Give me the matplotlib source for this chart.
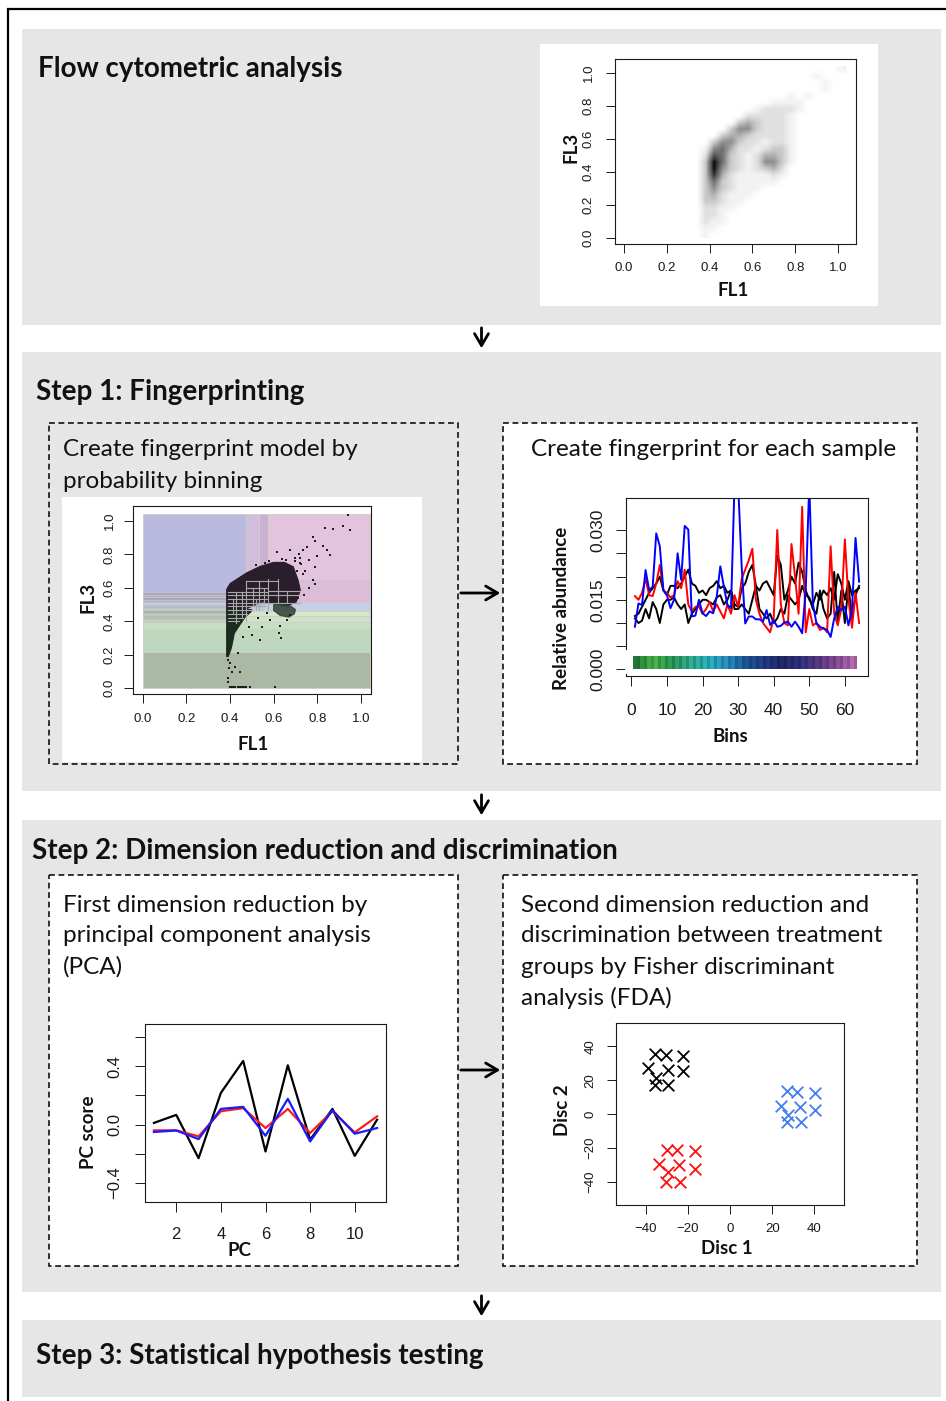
import matplotlib

matplotlib.use("Agg")
import matplotlib.pyplot as plt
import numpy as np
from matplotlib.colors import LinearSegmentedColormap, to_rgb
from matplotlib.patches import Rectangle, Polygon

W, H = 946, 1401
PANEL_GRAY = "#e6e6e6"
LABEL_FONT = "Lato"
plt.rcParams["font.family"] = "Liberation Sans"

# ---------------- data ----------------
# top panel: FL1/FL3 event density, 0.04-wide cells, rows from FL3 1.02 down to 0.02
# each row = (first FL1 cell, density digits 0-9)
FCM_ROWS = [
    (25, "1"), (22, "1"), (23, "1"), (23, "1"), (19, "101"), (17, "1111"),
    (15, "122221"), (14, "222221"), (13, "3432221"), (12, "35532221"),
    (11, "344322221"), (10, "3553221221"), (9, "15642212331"),
    (9, "27632124431"), (9, "39632125531"), (9, "3953212342"),
    (9, "3842111121"), (9, "363211111"), (9, "3532111"), (9, "342111"),
    (9, "33211"), (9, "2211"), (9, "221"), (9, "211"), (9, "11"), (9, "1"),
]
FCM_CELL = 0.04

# step 1 left: probability bins (FL1 from, FL1 to, FL3 from, FL3 to, colour)
BIN_RECTS = [
    (0.000, 0.475, 0.575, 1.040, "#b9bade"),
    (0.475, 0.535, 0.600, 1.040, "#d2bedc"),
    (0.535, 0.575, 0.600, 1.040, "#cbb0d4"),
    (0.575, 1.040, 0.650, 1.040, "#e2c4dd"),
    (0.575, 1.040, 0.510, 0.650, "#dbbdd8"),
    (0.475, 0.575, 0.510, 0.600, "#cdb6d6"),
    (0.390, 0.475, 0.470, 0.575, "#b4b4d0"),
    (0.560, 1.040, 0.470, 0.510, "#c4d0e8"),
    (0.390, 0.560, 0.470, 0.510, "#c0c8e0"),
    (0.390, 1.040, 0.460, 0.470, "#dce7ec"),
    (0.390, 1.040, 0.430, 0.460, "#d4e7ca"),
    (0.390, 1.040, 0.395, 0.430, "#cee3c5"),
    (0.000, 1.040, 0.355, 0.395, "#c7dfc0"),
    (0.000, 1.040, 0.215, 0.355, "#bfd8bd"),
    (0.000, 1.040, 0.000, 0.215, "#aab8a4"),
]
STRIPE_EDGES = [0.395, 0.415, 0.435, 0.45, 0.465, 0.48, 0.50, 0.515, 0.53,
                0.545, 0.56, 0.575]
STRIPE_COLORS = ["#c3d3bd", "#b3c0b0", "#bccabb", "#aab4a8", "#c2cdc8",
                 "#b1bcc4", "#c8c8da", "#b2b2c9", "#a9a5be", "#b4afc9",
                 "#aaa7c1"]
# small bin borders inside the dense region
BIN_HSEGS = [(0.600, 0.475, 0.575), (0.575, 0.390, 0.575), (0.555, 0.390, 0.720),
             (0.535, 0.390, 0.575), (0.510, 0.390, 0.720), (0.490, 0.390, 0.560),
             (0.470, 0.390, 0.500), (0.445, 0.390, 0.480), (0.420, 0.390, 0.460),
             (0.400, 0.390, 0.440), (0.580, 0.575, 0.720), (0.640, 0.475, 0.620)]
BIN_VSEGS = [(0.475, 0.400, 0.640), (0.535, 0.470, 0.640), (0.575, 0.470, 0.650),
             (0.430, 0.390, 0.575), (0.455, 0.420, 0.575), (0.505, 0.490, 0.600),
             (0.520, 0.470, 0.535), (0.620, 0.510, 0.650), (0.660, 0.510, 0.580),
             (0.415, 0.445, 0.535), (0.555, 0.510, 0.600)]
# outlines of the dense event masses
UPPER_MASS_X = [0.385, 0.401, 0.432, 0.477, 0.538, 0.599, 0.650, 0.690, 0.712,
                0.722, 0.704, 0.660, 0.599, 0.550, 0.500, 0.470, 0.430, 0.385]
UPPER_MASS_Y = [0.591, 0.626, 0.652, 0.690, 0.728, 0.752, 0.752, 0.726, 0.646,
                0.587, 0.517, 0.490, 0.507, 0.517, 0.490, 0.470, 0.470, 0.470]
LOWER_MASS_X = [0.385, 0.500, 0.495, 0.470, 0.440, 0.420, 0.414, 0.406, 0.398,
                0.392, 0.385]
LOWER_MASS_Y = [0.470, 0.470, 0.455, 0.427, 0.368, 0.328, 0.288, 0.239, 0.209,
                0.190, 0.190]
RIGHT_MASS_X = [0.600, 0.640, 0.680, 0.700, 0.695, 0.670, 0.630, 0.600]
RIGHT_MASS_Y = [0.500, 0.503, 0.490, 0.470, 0.445, 0.425, 0.435, 0.465]
SPARSE_X = [0.942, 0.949, 0.835, 0.874, 0.917, 0.782, 0.790, 0.752, 0.828, 0.843,
            0.858, 0.797, 0.715, 0.723, 0.761, 0.790, 0.782, 0.790, 0.614, 0.675,
            0.736, 0.721, 0.530, 0.546, 0.500, 0.459, 0.487, 0.538, 0.585, 0.631,
            0.623, 0.633, 0.569, 0.660, 0.675, 0.439, 0.444, 0.401, 0.424, 0.391,
            0.605, 0.390, 0.400, 0.395, 0.410, 0.390, 0.400, 0.405, 0.415, 0.425,
            0.435, 0.445, 0.455, 0.465, 0.475, 0.490, 0.745, 0.700, 0.760, 0.640,
            0.655, 0.700, 0.725, 0.735, 0.705, 0.580, 0.560, 0.520, 0.740, 0.712]
SPARSE_Y = [1.034, 0.945, 0.960, 0.954, 0.968, 0.901, 0.881, 0.845, 0.849, 0.825,
            0.795, 0.789, 0.805, 0.781, 0.766, 0.726, 0.646, 0.626, 0.815, 0.825,
            0.825, 0.746, 0.418, 0.368, 0.318, 0.308, 0.368, 0.288, 0.408, 0.373,
            0.328, 0.298, 0.447, 0.408, 0.438, 0.209, 0.099, 0.149, 0.129, 0.040,
            0.005, 0.170, 0.150, 0.120, 0.100, 0.060, 0.006, 0.006, 0.006, 0.006,
            0.006, 0.006, 0.006, 0.006, 0.006, 0.006, 0.700, 0.780, 0.600, 0.770,
            0.765, 0.760, 0.745, 0.680, 0.700, 0.762, 0.750, 0.735, 0.560, 0.540]

# step 1 right: fingerprints (relative abundance per bin)
BINS = list(range(1, 65))
FP_RED = [0.0158, 0.0150, 0.0165, 0.0195, 0.0160, 0.0158, 0.0185, 0.0225, 0.0170, 0.0165,
          0.0155, 0.0160, 0.0190, 0.0175, 0.0215, 0.0140, 0.0125, 0.0135, 0.0135, 0.0120,
          0.0130, 0.0145, 0.0125, 0.0140, 0.0125, 0.0110, 0.0140, 0.0120, 0.0160, 0.0135,
          0.0195, 0.0215, 0.0235, 0.0260, 0.0150, 0.0120, 0.0100, 0.0090, 0.0080, 0.0110,
          0.0300, 0.0140, 0.0100, 0.0095, 0.0270, 0.0200, 0.0120, 0.0350, 0.0080, 0.0130,
          0.0095, 0.0100, 0.0085, 0.0090, 0.0080, 0.0265, 0.0120, 0.0095, 0.0130, 0.0280,
          0.0150, 0.0090, 0.0165, 0.0100]
FP_BLUE = [0.0092, 0.0142, 0.0139, 0.0214, 0.0171, 0.0178, 0.0293, 0.0265, 0.0171, 0.0160,
           0.0132, 0.0150, 0.0250, 0.0193, 0.0309, 0.0301, 0.0114, 0.0116, 0.0150, 0.0121,
           0.0115, 0.0125, 0.0121, 0.0157, 0.0222, 0.0178, 0.0139, 0.0132, 0.0400, 0.0400,
           0.0222, 0.0099, 0.0114, 0.0114, 0.0108, 0.0108, 0.0103, 0.0128, 0.0096, 0.0106,
           0.0092, 0.0094, 0.0101, 0.0103, 0.0092, 0.0103, 0.0092, 0.0078, 0.0171, 0.0400,
           0.0142, 0.0100, 0.0092, 0.0088, 0.0085, 0.0070, 0.0110, 0.0135, 0.0128, 0.0135,
           0.0095, 0.0130, 0.0283, 0.0189]
FP_BLACK_A = [0.0115, 0.0120, 0.0135, 0.0150, 0.0165, 0.0175, 0.0185, 0.0200, 0.0170, 0.0160,
              0.0180, 0.0180, 0.0175, 0.0185, 0.0200, 0.0215, 0.0185, 0.0180, 0.0165, 0.0170,
              0.0160, 0.0175, 0.0180, 0.0190, 0.0175, 0.0180, 0.0165, 0.0170, 0.0140, 0.0135,
              0.0175, 0.0185, 0.0210, 0.0225, 0.0180, 0.0170, 0.0185, 0.0190, 0.0175, 0.0160,
              0.0245, 0.0225, 0.0150, 0.0170, 0.0200, 0.0185, 0.0230, 0.0210, 0.0170, 0.0150,
              0.0140, 0.0165, 0.0150, 0.0170, 0.0160, 0.0175, 0.0150, 0.0205, 0.0185, 0.0150,
              0.0190, 0.0160, 0.0170, 0.0175]
FP_BLACK_B = [0.0110, 0.0100, 0.0105, 0.0130, 0.0110, 0.0145, 0.0130, 0.0100, 0.0140, 0.0150,
              0.0150, 0.0155, 0.0140, 0.0130, 0.0140, 0.0100, 0.0120, 0.0130, 0.0140, 0.0150,
              0.0150, 0.0145, 0.0140, 0.0155, 0.0160, 0.0140, 0.0150, 0.0170, 0.0130, 0.0130,
              0.0140, 0.0130, 0.0120, 0.0150, 0.0180, 0.0130, 0.0120, 0.0110, 0.0120, 0.0100,
              0.0110, 0.0130, 0.0120, 0.0160, 0.0150, 0.0140, 0.0150, 0.0180, 0.0160, 0.0155,
              0.0130, 0.0120, 0.0170, 0.0130, 0.0110, 0.0120, 0.0210, 0.0100, 0.0170, 0.0100,
              0.0180, 0.0110, 0.0160, 0.0180]
BAR_ANCHORS = ["#1f7a3a", "#4cb848", "#2a9a5a", "#30b090", "#2ab5c0", "#2a90c8",
               "#1a5a98", "#243c88", "#1e2a6a", "#303080", "#5a3a8a", "#8a4c9e",
               "#c070b8"]

# step 2 left: PCA scores
PCS = list(range(1, 12))
PCA_BLACK = [0.012, 0.067, -0.230, 0.218, 0.437, -0.184, 0.407, -0.103, 0.108, -0.214, 0.034]
PCA_RED = [-0.039, -0.039, -0.080, 0.092, 0.113, -0.023, 0.108, -0.057, 0.092, -0.053, 0.057]
PCA_BLUE = [-0.050, -0.040, -0.099, 0.108, 0.122, -0.076, 0.177, -0.115, 0.099, -0.062, -0.023]

# step 2 right: FDA discriminant scores per group
FDA_BLACK_X = [-35.3, -30.4, -22.1, -38.8, -29.6, -22.1, -35.2, -35.5, -29.3]
FDA_BLACK_Y = [35.5, 35.1, 34.5, 27.2, 26.3, 25.3, 21.3, 17.4, 17.4]
FDA_RED_X = [-30.0, -25.3, -16.6, -33.5, -24.0, -16.6, -29.6, -30.4, -23.7]
FDA_RED_Y = [-21.3, -21.3, -21.9, -29.2, -30.2, -32.2, -34.1, -40.0, -40.0]
FDA_BLUE_X = [27.2, 31.9, 40.4, 24.1, 33.2, 40.4, 27.7, 27.2, 33.5]
FDA_BLUE_Y = [13.5, 12.9, 12.4, 5.0, 4.0, 2.65, -0.3, -4.8, -4.8]


# ---------------- helpers ----------------
def pax(fig, left, top, right, bottom):
    return fig.add_axes([left / W, 1 - bottom / H, (right - left) / W, (bottom - top) / H])


def r_style(ax, size, xpad, ypad, tick_len=6.5):
    for sp in ax.spines.values():
        sp.set_linewidth(0.8)
        sp.set_color("#1a1a1a")
    ax.tick_params(direction="out", length=tick_len, width=0.7, labelsize=size,
                   colors="#1a1a1a")
    ax.tick_params(axis="x", pad=xpad)
    ax.tick_params(axis="y", pad=ypad)
    for lbl in ax.get_yticklabels():
        lbl.set_rotation(90)
        lbl.set_va("center")


fig = plt.figure(figsize=(W / 100, H / 100), dpi=100)
bg = fig.add_axes([0, 0, 1, 1])
bg.set_xlim(0, W)
bg.set_ylim(H, 0)
bg.axis("off")

# outer frame and grey panels
bg.plot([7.5, 7.5, W + 5], [H + 5, 9, 9], color="black", lw=1.6, solid_joinstyle="miter")
for top, bottom in [(29, 325), (352, 791), (820, 1292), (1320, 1397)]:
    bg.add_patch(Rectangle((22, top), 919, bottom - top, facecolor=PANEL_GRAY, edgecolor="none"))

# white areas behind the plots
bg.add_patch(Rectangle((540, 44), 338, 262, facecolor="white", edgecolor="none"))
bg.add_patch(Rectangle((62, 497), 360, 265, facecolor="white", edgecolor="none"))
bg.add_patch(Rectangle((503, 423), 414, 341, facecolor="white", edgecolor="none"))
bg.add_patch(Rectangle((49, 875), 409, 391, facecolor="white", edgecolor="none"))
bg.add_patch(Rectangle((503, 875), 414, 391, facecolor="white", edgecolor="none"))

# dashed boxes
for x0, y0, x1, y1 in [(49, 423, 458, 764), (503, 423, 917, 764),
                       (49, 875, 458, 1266), (503, 875, 917, 1266)]:
    bg.add_patch(Rectangle((x0, y0), x1 - x0, y1 - y0, fill=False, edgecolor="#111111",
                           lw=1.2, ls=(0, (3.5, 2.2))))

# arrows
arrow_kw = dict(arrowstyle="->,head_length=0.85,head_width=0.5", color="black", lw=2.0)
for y0, y1 in [(325, 351), (792, 818), (1293, 1319)]:
    bg.annotate("", xy=(481.5, y1), xytext=(481.5, y0), arrowprops=arrow_kw)
for y in [593, 1070]:
    bg.annotate("", xy=(503, y), xytext=(458, y), arrowprops=arrow_kw)

# headings and box texts
title_kw = dict(family=LABEL_FONT, weight="bold", fontsize=20, va="center", ha="left",
                color="#111111")
bg.text(38, 69, "Flow cytometric analysis", **title_kw)
bg.text(36, 392, "Step 1: Fingerprinting", **title_kw)
bg.text(32, 851, "Step 2: Dimension reduction and discrimination", **title_kw)
bg.text(36, 1356, "Step 3: Statistical hypothesis testing", **title_kw)

body_kw = dict(family=LABEL_FONT, fontsize=17.5, va="center", ha="left", color="#111111")
for x, y0, lines in [
    (63, 450, ["Create fingerprint model by", "probability binning"]),
    (531, 449, ["Create fingerprint for each sample"]),
    (63, 905, ["First dimension reduction by", "principal component analysis", "(PCA)"]),
    (521, 905, ["Second dimension reduction and", "discrimination between treatment",
                "groups by Fisher discriminant", "analysis (FDA)"]),
]:
    for k, line in enumerate(lines):
        bg.text(x, y0 + 31 * k, line, **body_kw)

axlab = dict(family=LABEL_FONT, weight="bold", fontsize=13.5, ha="center", va="center",
             color="#111111")

# ---------------- top: flow cytometry scatter ----------------
ax = pax(fig, 615, 59, 856, 244)
grid = np.zeros((len(FCM_ROWS), 26))
for r, (c0, digits) in enumerate(FCM_ROWS):
    for k, ch in enumerate(digits):
        grid[r, c0 + k] = int(ch)
n = grid.shape[0] * FCM_CELL
ax.imshow(grid, extent=(0, n, 0, n), origin="upper", cmap="Greys", vmin=0, vmax=9.5,
          interpolation="bilinear", aspect="auto")
ax.set_xlim(-0.042, 1.084)
ax.set_ylim(-0.038, 1.083)
ax.set_xticks([0, 0.2, 0.4, 0.6, 0.8, 1.0], ["0.0", "0.2", "0.4", "0.6", "0.8", "1.0"])
ax.set_yticks([0, 0.2, 0.4, 0.6, 0.8, 1.0], ["0.0", "0.2", "0.4", "0.6", "0.8", "1.0"])
r_style(ax, 9.5, 6.5, 8)
bg.text(733, 291, "FL1", **axlab)
bg.text(571, 147, "FL3", rotation=90, **axlab)

# ---------------- step 1 left: probability binning ----------------
ax = pax(fig, 133, 506, 371, 694)
for x0, x1, y0, y1, col in BIN_RECTS:
    ax.add_patch(Rectangle((x0, y0), x1 - x0, y1 - y0, facecolor=col, edgecolor="#cfcfcf",
                           lw=0.7))
for k, col in enumerate(STRIPE_COLORS):
    y0, y1 = STRIPE_EDGES[k], STRIPE_EDGES[k + 1]
    ax.add_patch(Rectangle((0, y0), 0.39, y1 - y0, facecolor=col, edgecolor="#c4c4c4", lw=0.5))
ax.add_patch(Polygon(np.column_stack([UPPER_MASS_X, UPPER_MASS_Y]), facecolor="#2a1e2c",
                     edgecolor="#2a1e2c", lw=0.8))
ax.add_patch(Polygon(np.column_stack([LOWER_MASS_X, LOWER_MASS_Y]), facecolor="#1d2b1f",
                     edgecolor="#1d2b1f", lw=0.8))
ax.add_patch(Polygon(np.column_stack([RIGHT_MASS_X, RIGHT_MASS_Y]), facecolor="#2e3d32",
                     edgecolor="#2e3d32", lw=0.8, alpha=0.85))
ax.scatter(SPARSE_X, SPARSE_Y, s=3, marker="s", color="#1f1a22", linewidths=0)
for y, x0, x1 in BIN_HSEGS:
    ax.plot([x0, x1], [y, y], color="#a8a8a8", lw=0.8)
for x, y0, y1 in BIN_VSEGS:
    ax.plot([x, x], [y0, y1], color="#a8a8a8", lw=0.8)
ax.set_xlim(-0.044, 1.046)
ax.set_ylim(-0.034, 1.089)
ax.set_xticks([0, 0.2, 0.4, 0.6, 0.8, 1.0], ["0.0", "0.2", "0.4", "0.6", "0.8", "1.0"])
ax.set_yticks([0, 0.2, 0.4, 0.6, 0.8, 1.0], ["0.0", "0.2", "0.4", "0.6", "0.8", "1.0"])
r_style(ax, 9.5, 7.5, 6)
bg.text(253, 744, "FL1", **axlab)
bg.text(88, 597, "FL3", rotation=90, **axlab)

# ---------------- step 1 right: fingerprints ----------------
ax = pax(fig, 626, 498, 868, 676)
ax.plot(BINS, FP_BLACK_A, color="black", lw=1.4)
ax.plot(BINS, FP_BLACK_B, color="black", lw=1.4)
ax.plot(BINS, FP_RED, color="#ff0000", lw=1.4)
ax.plot(BINS, FP_BLUE, color="#0000ff", lw=1.4)
ax.add_patch(Rectangle((-1.7, -0.0010), 66.4, 0.0053, facecolor="white", edgecolor="none",
                       zorder=3, clip_on=False))
cmap = LinearSegmentedColormap.from_list("bins", BAR_ANCHORS)
edges = np.linspace(0.5, 63.5, len(BINS) + 1)
for k in range(len(BINS)):
    base = np.array(to_rgb(cmap(k / (len(BINS) - 1))))
    col = base * (0.82 if k % 2 else 1.0)
    ax.add_patch(Rectangle((edges[k], 0.0), edges[k + 1] - edges[k], 0.003, facecolor=col,
                           edgecolor="none", zorder=4))
ax.set_xlim(-1.5, 66.5)
ax.set_ylim(-0.0014, 0.0369)
ax.set_xticks([0, 10, 20, 30, 40, 50, 60])
ax.set_yticks([0, 0.005, 0.010, 0.015, 0.020, 0.025, 0.030],
              ["0.000", "", "", "0.015", "", "", "0.030"])
r_style(ax, 12.5, 12.5, 8, tick_len=7)
bg.text(730, 737, "Bins", **axlab)
bg.text(561, 608, "Relative abundance", rotation=90, **axlab)

# ---------------- step 2 left: PCA ----------------
ax = pax(fig, 145, 1024, 386, 1202)
ax.plot(PCS, PCA_BLACK, color="black", lw=1.6)
ax.plot(PCS, PCA_RED, color="#ff1a1a", lw=1.6)
ax.plot(PCS, PCA_BLUE, color="#1a1aff", lw=1.6)
ax.set_xlim(0.6, 11.4)
ax.set_ylim(-0.53, 0.69)
ax.set_xticks([2, 4, 6, 8, 10])
ax.set_yticks([-0.4, -0.2, 0.0, 0.2, 0.4, 0.6], ["\u22120.4", "", "0.0", "", "0.4", ""])
r_style(ax, 12, 10.5, 9, tick_len=7.5)
bg.text(239, 1251, "PC", **axlab)
bg.text(88, 1132, "PC score", rotation=90, **axlab)

# ---------------- step 2 right: FDA ----------------
ax = pax(fig, 616, 1023, 844, 1205)
mk = dict(marker="x", s=70, linewidths=1.3)
ax.scatter(FDA_BLACK_X, FDA_BLACK_Y, color="black", **mk)
ax.scatter(FDA_RED_X, FDA_RED_Y, color="#ff1010", **mk)
ax.scatter(FDA_BLUE_X, FDA_BLUE_Y, color="#3f7ff0", **mk)
ax.set_xlim(-54, 54)
ax.set_ylim(-53.5, 53.8)
ticks = [-40, -20, 0, 20, 40]
labels = [str(t).replace("-", "\u2212") for t in ticks]
ax.set_xticks(ticks, labels)
ax.set_yticks(ticks, labels)
r_style(ax, 9.5, 6.5, 7.5)
bg.text(727, 1249, "Disc 1", **axlab)
bg.text(562, 1110, "Disc 2", rotation=90, **axlab)

fig.savefig("out.png", dpi=100)
